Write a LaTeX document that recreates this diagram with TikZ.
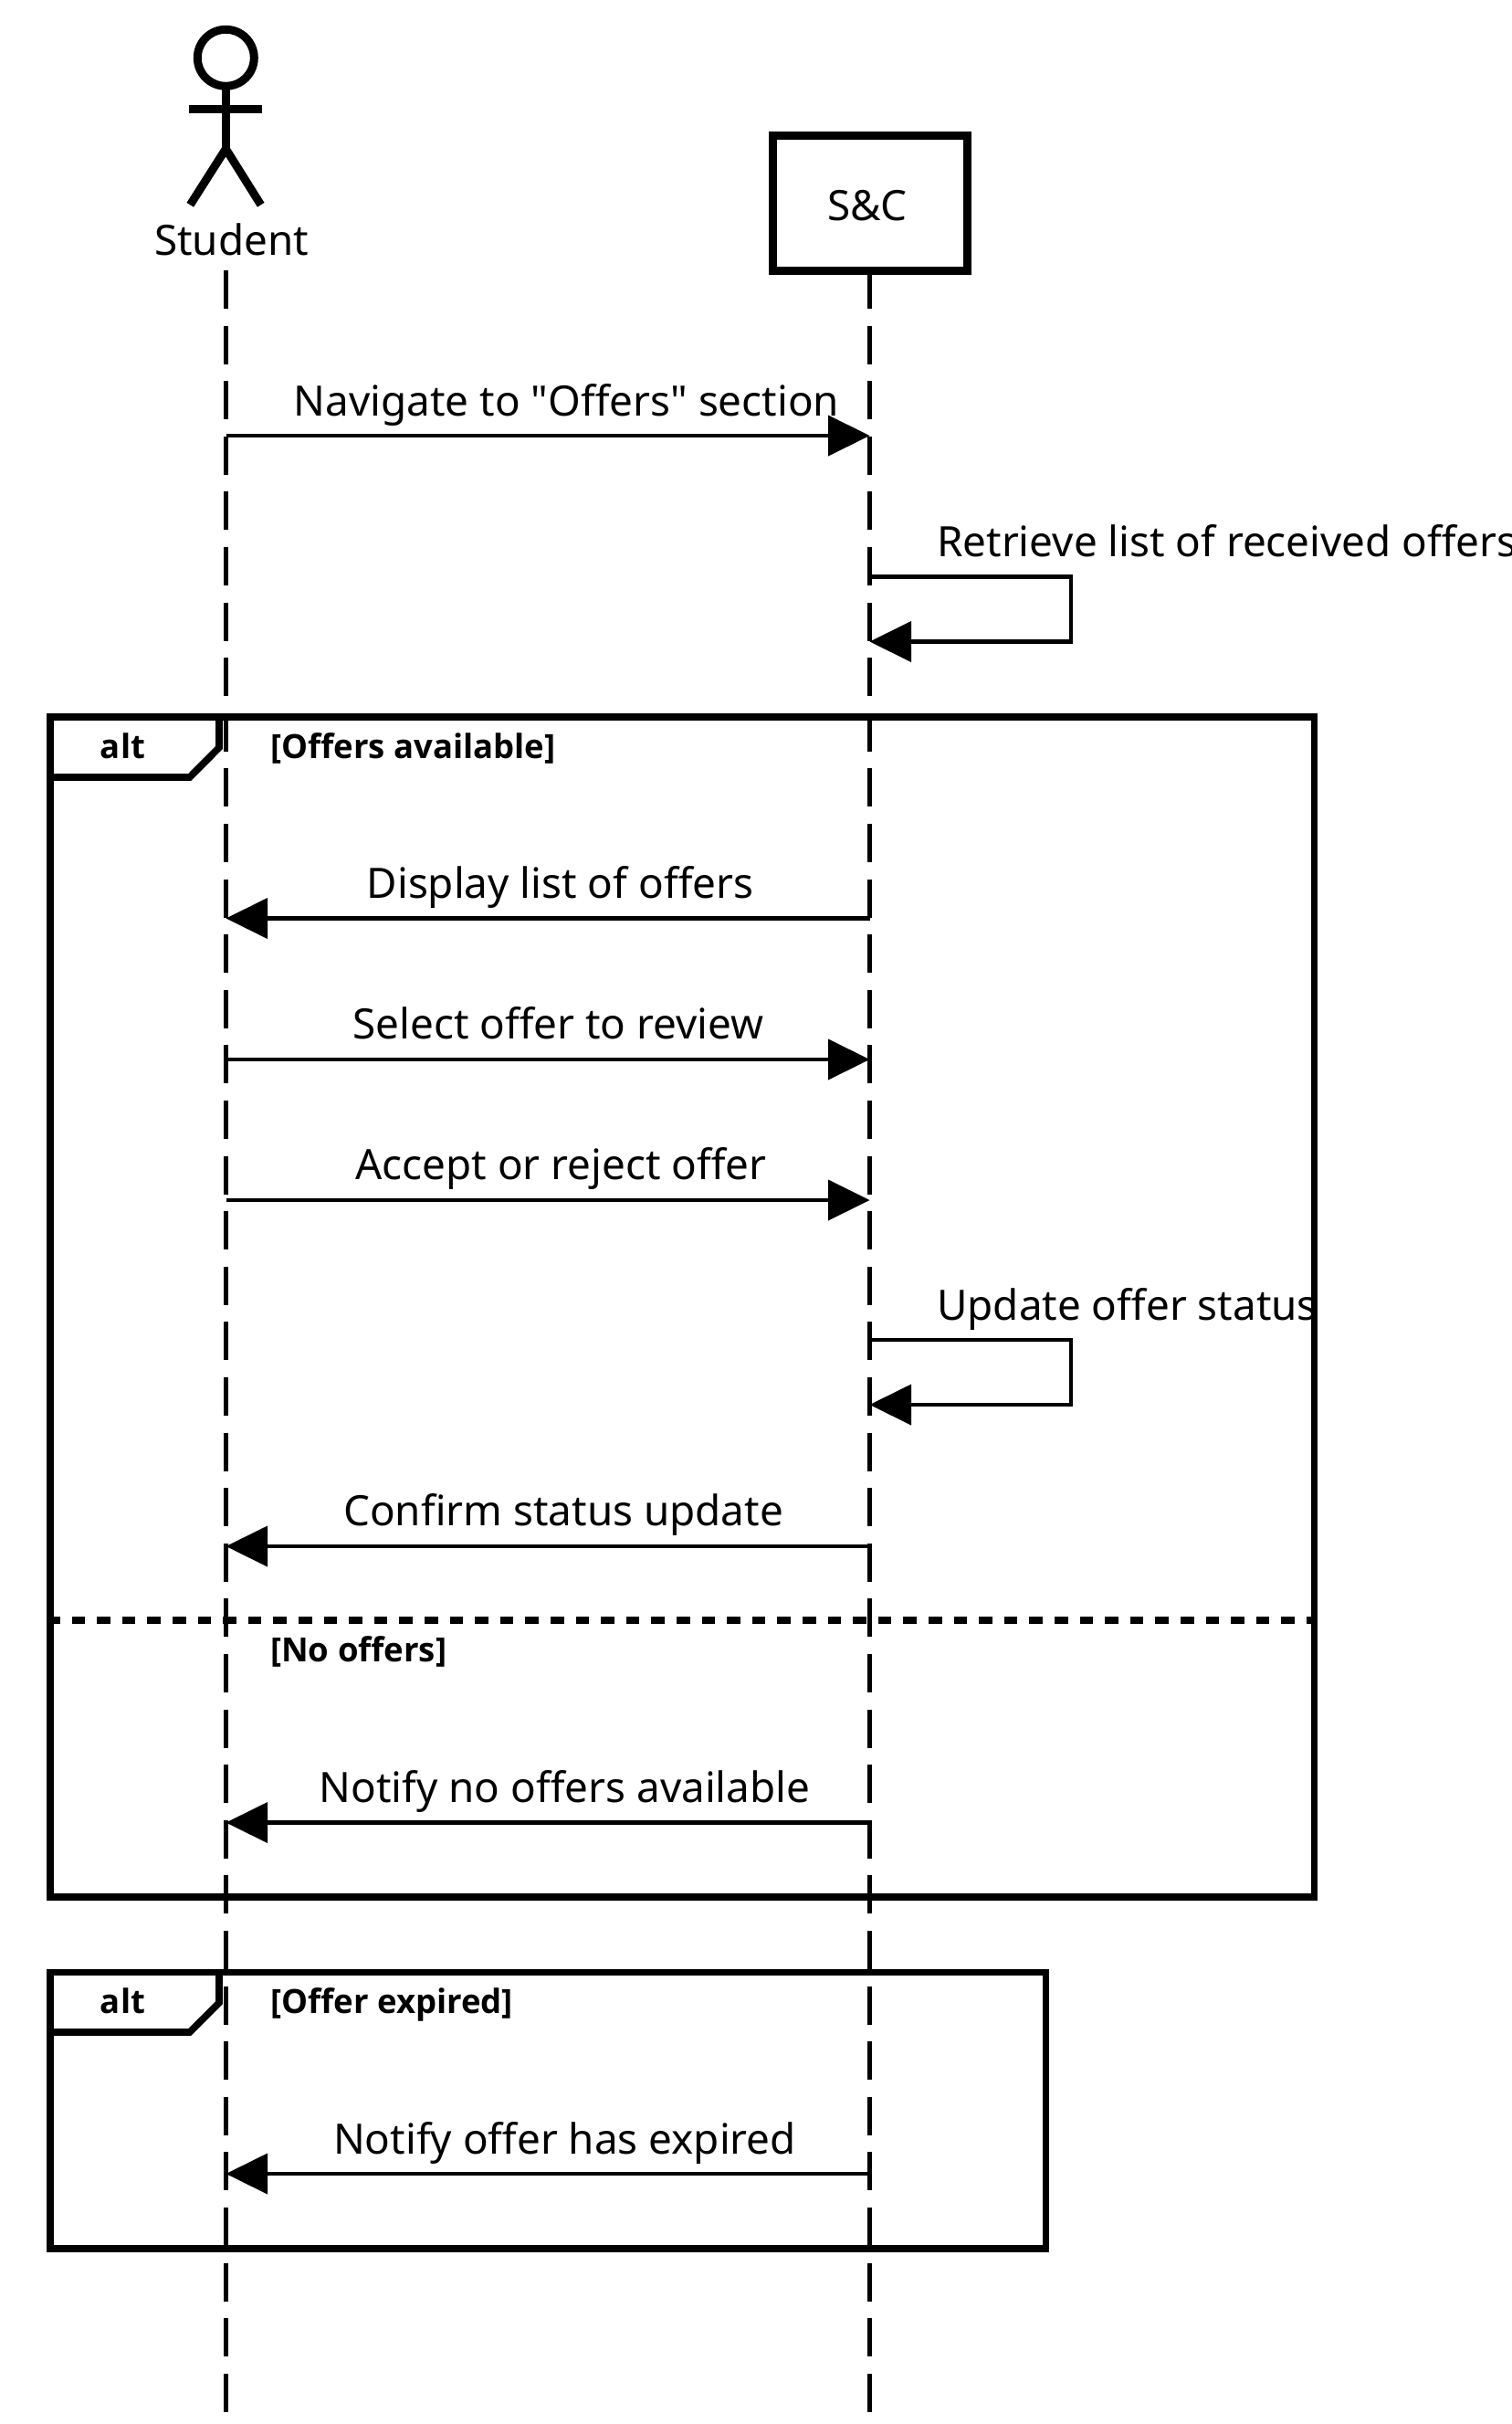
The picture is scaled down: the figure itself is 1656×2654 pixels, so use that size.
\documentclass[tikz,border=0pt]{standalone}
\usepackage{fontspec}
\newfontfamily\diagfont{Noto Sans}
\newfontfamily\diagbold{Open Sans}
\usetikzlibrary{arrows.meta}
\tikzset{
  x=1pt,y=-1pt,
  life/.style={line width=5pt,dash pattern=on 42pt off 18.6pt},
  msg/.style={line width=4.2pt,-{Triangle[length=45.5pt,width=45pt,line width=0pt]}},
  frameline/.style={line width=7.7pt,line join=miter},
  divider/.style={line width=7.5pt,dash pattern=on 14.5pt off 13.1pt},
  actorline/.style={line width=9pt},
  lbl/.style={font=\diagfont\fontsize{45.8}{54}\selectfont,inner sep=0pt,anchor=base},
  lblL/.style={lbl,anchor=base west},
  tag/.style={font=\diagbold\fontsize{36.5}{44}\selectfont\bfseries,inner sep=0pt,anchor=base},
  guard/.style={tag,anchor=base west},
}
\begin{document}
\begin{tikzpicture}
\clip (0,0) rectangle (1656,2654);
\fill[white] (0,0) rectangle (1656,2654);

% Frames
\node[draw,frameline,rectangle,inner sep=0pt,outer sep=0pt,minimum width=1384.8pt,minimum height=1292pt,anchor=north west] (frameA) at (54.7,785.3) {};
\coordinate (fa1) at (240,785.3);
\coordinate (fa2) at (240,818.5);
\coordinate (fa3) at (207.7,851);
\coordinate (fa4) at (54.7,851);
\draw[frameline] (fa1) -- (fa2) -- (fa3) -- (fa4);
\node[tag] (altA) at (134.5,830) {alt};
\node[guard] (guardA) at (296,830) {[Offers available]};
\coordinate (divL) at (51,1774);
\coordinate (divR) at (1439.5,1774);
\draw[divider] (divL) -- (divR);
\node[guard] (guardB) at (296,1819) {[No offers]};

\node[draw,frameline,rectangle,inner sep=0pt,outer sep=0pt,minimum width=1090.8pt,minimum height=302.8pt,anchor=north west] (frameB) at (54.7,2159.5) {};
\coordinate (fb1) at (240,2159.5);
\coordinate (fb2) at (240,2192.7);
\coordinate (fb3) at (207.7,2225);
\coordinate (fb4) at (54.7,2225);
\draw[frameline] (fb1) -- (fb2) -- (fb3) -- (fb4);
\node[tag] (altB) at (134.5,2204.2) {alt};
\node[guard] (guardC) at (296,2204.2) {[Offer expired]};

% Participants
\node[draw,circle,actorline,inner sep=0pt,outer sep=0pt,minimum size=62pt] (head) at (247.3,63.3) {};
\coordinate (arml) at (207.3,119.5);
\coordinate (armr) at (286.7,119.5);
\coordinate (hip) at (247.3,163);
\coordinate (legl) at (208.3,224.3);
\coordinate (legr) at (285.7,224.3);
\draw[actorline] (head.south) -- (hip);
\draw[actorline] (arml) -- (armr);
\draw[actorline,line join=miter] (legl) -- (hip) -- (legr);
\node[lbl] (student) at (253.5,279.3) {Student};
\node[draw,rectangle,line width=8.5pt,fill=white,inner sep=0pt,outer sep=0pt,minimum width=213.2pt,minimum height=148.2pt] (sc) at (952.9,222.4) {};
\node[lbl] (sclabel) at (950,242) {S\&C};

% Lifelines
\coordinate (s0) at (247.5,296);
\coordinate (sE) at (247.5,2654);
\coordinate (c0) at (952.5,296);
\coordinate (cE) at (952.5,2654);
\draw[life] (s0) -- (sE);
\draw[life] (c0) -- (cE);

% Messages
\coordinate (s1) at (247.5,477);   \coordinate (c1) at (952.5,477);
\coordinate (c2a) at (952.5,631.5);\coordinate (l2a) at (1172.7,631.5);
\coordinate (l2b) at (1172.7,702.5);\coordinate (c2b) at (952.5,702.5);
\coordinate (c3) at (952.5,1005.5);\coordinate (s3) at (247.5,1005.5);
\coordinate (s4) at (247.5,1160);  \coordinate (c4) at (952.5,1160);
\coordinate (s5) at (247.5,1314);  \coordinate (c5) at (952.5,1314);
\coordinate (c6a) at (952.5,1467); \coordinate (l6a) at (1172.7,1467);
\coordinate (l6b) at (1172.7,1538);\coordinate (c6b) at (952.5,1538);
\coordinate (c7) at (952.5,1693);  \coordinate (s7) at (247.5,1693);
\coordinate (c8) at (952.5,1995.5);\coordinate (s8) at (247.5,1995.5);
\coordinate (c9) at (952.5,2380);  \coordinate (s9) at (247.5,2380);

\draw[msg] (s1) -- (c1);
\draw[msg] (c2a) -- (l2a) -- (l2b) -- (c2b);
\draw[msg] (c3) -- (s3);
\draw[msg] (s4) -- (c4);
\draw[msg] (s5) -- (c5);
\draw[msg] (c6a) -- (l6a) -- (l6b) -- (c6b);
\draw[msg] (c7) -- (s7);
\draw[msg] (c8) -- (s8);
\draw[msg] (c9) -- (s9);

\node[lbl] (m1) at (620.5,455) {Navigate to "Offers" section};
\node[lblL] (m2) at (1026,609) {Retrieve list of received offers};
\node[lbl] (m3) at (613.5,983) {Display list of offers};
\node[lbl] (m4) at (611.5,1137) {Select offer to review};
\node[lbl] (m5) at (614.5,1291) {Accept or reject offer};
\node[lblL] (m6) at (1026,1445) {Update offer status};
\node[lbl] (m7) at (617,1670.5) {Confirm status update};
\node[lbl] (m8) at (618.5,1973) {Notify no offers available};
\node[lbl] (m9) at (618.5,2358) {Notify offer has expired};
\end{tikzpicture}
\end{document}
